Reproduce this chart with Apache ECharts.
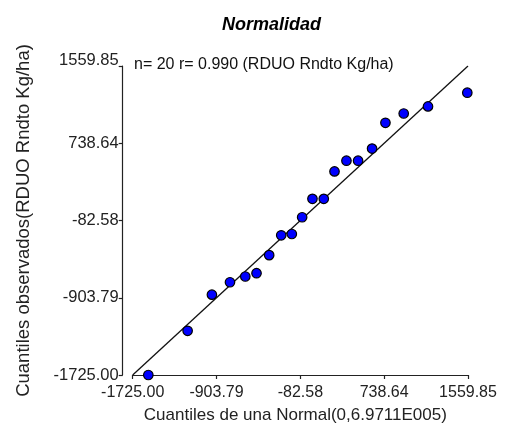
<!DOCTYPE html>
<html>
<head>
<meta charset="utf-8">
<script src="https://cdn.jsdelivr.net/npm/echarts@6/dist/echarts.min.js"></script>
<style>html,body{margin:0;padding:0;background:#fff}#c{width:506px;height:430px}</style>
</head>
<body>
<div id="c"></div>
<script>
var theoreticalQ = [-1572,-1187,-949,-772,-622,-512,-388,-270,-166,-65,36,147,252,369,483,620,751,930,1168,1553];
var observedQ = [-1725,-1255,-871,-739,-678,-643,-451,-240,-226,-48,148,148,439,553,553,682,956,1055,1130,1276];
var tickValues = [-1725, -903.79, -82.58, 738.64, 1559.85];
var tickLabels = ['-1725.00','-903.79','-82.58','738.64','1559.85'];
var refLine = [[-1725,-1725],[1559.85,1559.85]];

var points = theoreticalQ.map(function(x,i){return [x, observedQ[i]];});
function idx(v){
  for (var i=0;i<tickValues.length;i++){ if (Math.abs(tickValues[i]-v)<0.01) return i; }
  return -1;
}
function labX(v){ var i = idx(v); return i < 0 ? '' : tickLabels[i]; }
function labY(v){
  var i = idx(v);
  if (i < 0) return '';
  return i === tickValues.length - 1 ? '{t|' + tickLabels[i] + '}' : tickLabels[i];
}
var font = 'Liberation Sans, Arial, sans-serif';
var chart = echarts.init(document.getElementById('c'));
chart.setOption({
  animation: false,
  backgroundColor: '#fff',
  title: [
    {text: 'Normalidad', left: 217, top: 11, textStyle: {fontFamily: font, fontSize: 18, fontWeight: 'bold', fontStyle: 'italic', color: '#000'}},
    {text: 'n= 20 r= 0.990 (RDUO Rndto Kg/ha)', left: 134, top: 57, padding: 0, textStyle: {fontFamily: font, fontSize: 16, fontWeight: 'normal', color: '#111'}}
  ],
  grid: {left: 132.7, right: 38, top: 66, bottom: 55, containLabel: false, outerBoundsMode: 'none'},
  xAxis: {
    type: 'value', min: -1725, max: 1559.85,
    name: 'Cuantiles de una Normal(0,6.9711E005)', nameLocation: 'middle', nameGap: 32,
    nameTextStyle: {fontFamily: font, fontSize: 17, color: '#222', padding: [0, 10, 0, 0]},
    axisLine: {show: true, onZero: false, lineStyle: {color: '#222', width: 1.2}},
    axisTick: {show: true, length: 4, customValues: tickValues, lineStyle: {color: '#222', width: 1.2}},
    axisLabel: {customValues: tickValues, formatter: labX, margin: 10, fontFamily: font, fontSize: 16, color: '#222'},
    splitLine: {show: false}
  },
  yAxis: {
    type: 'value', min: -1725, max: 1559.85, offset: 10,
    name: 'Cuantiles observados(RDUO Rndto Kg/ha)', nameLocation: 'middle', nameGap: 89,
    nameTextStyle: {fontFamily: font, fontSize: 18.5, color: '#222'},
    axisLine: {show: true, onZero: false, lineStyle: {color: '#222', width: 1.2}},
    axisTick: {show: true, length: 4, customValues: tickValues, lineStyle: {color: '#222', width: 1.2}},
    axisLabel: {customValues: tickValues, formatter: labY, margin: 4, fontFamily: font, fontSize: 16.5, color: '#222',
      rich: {t: {fontFamily: font, fontSize: 16.5, color: '#222', padding: [0, 0, 11, 0]}}},
    splitLine: {show: false}
  },
  series: [
    {type: 'line', data: refLine, symbol: 'none', lineStyle: {color: '#111', width: 1.3}, z: 1},
    {type: 'scatter', data: points, symbolSize: 9.5, itemStyle: {color: '#0000ff', borderColor: '#000', borderWidth: 1.2, opacity: 1}, z: 3}
  ]
});
</script>
</body>
</html>
